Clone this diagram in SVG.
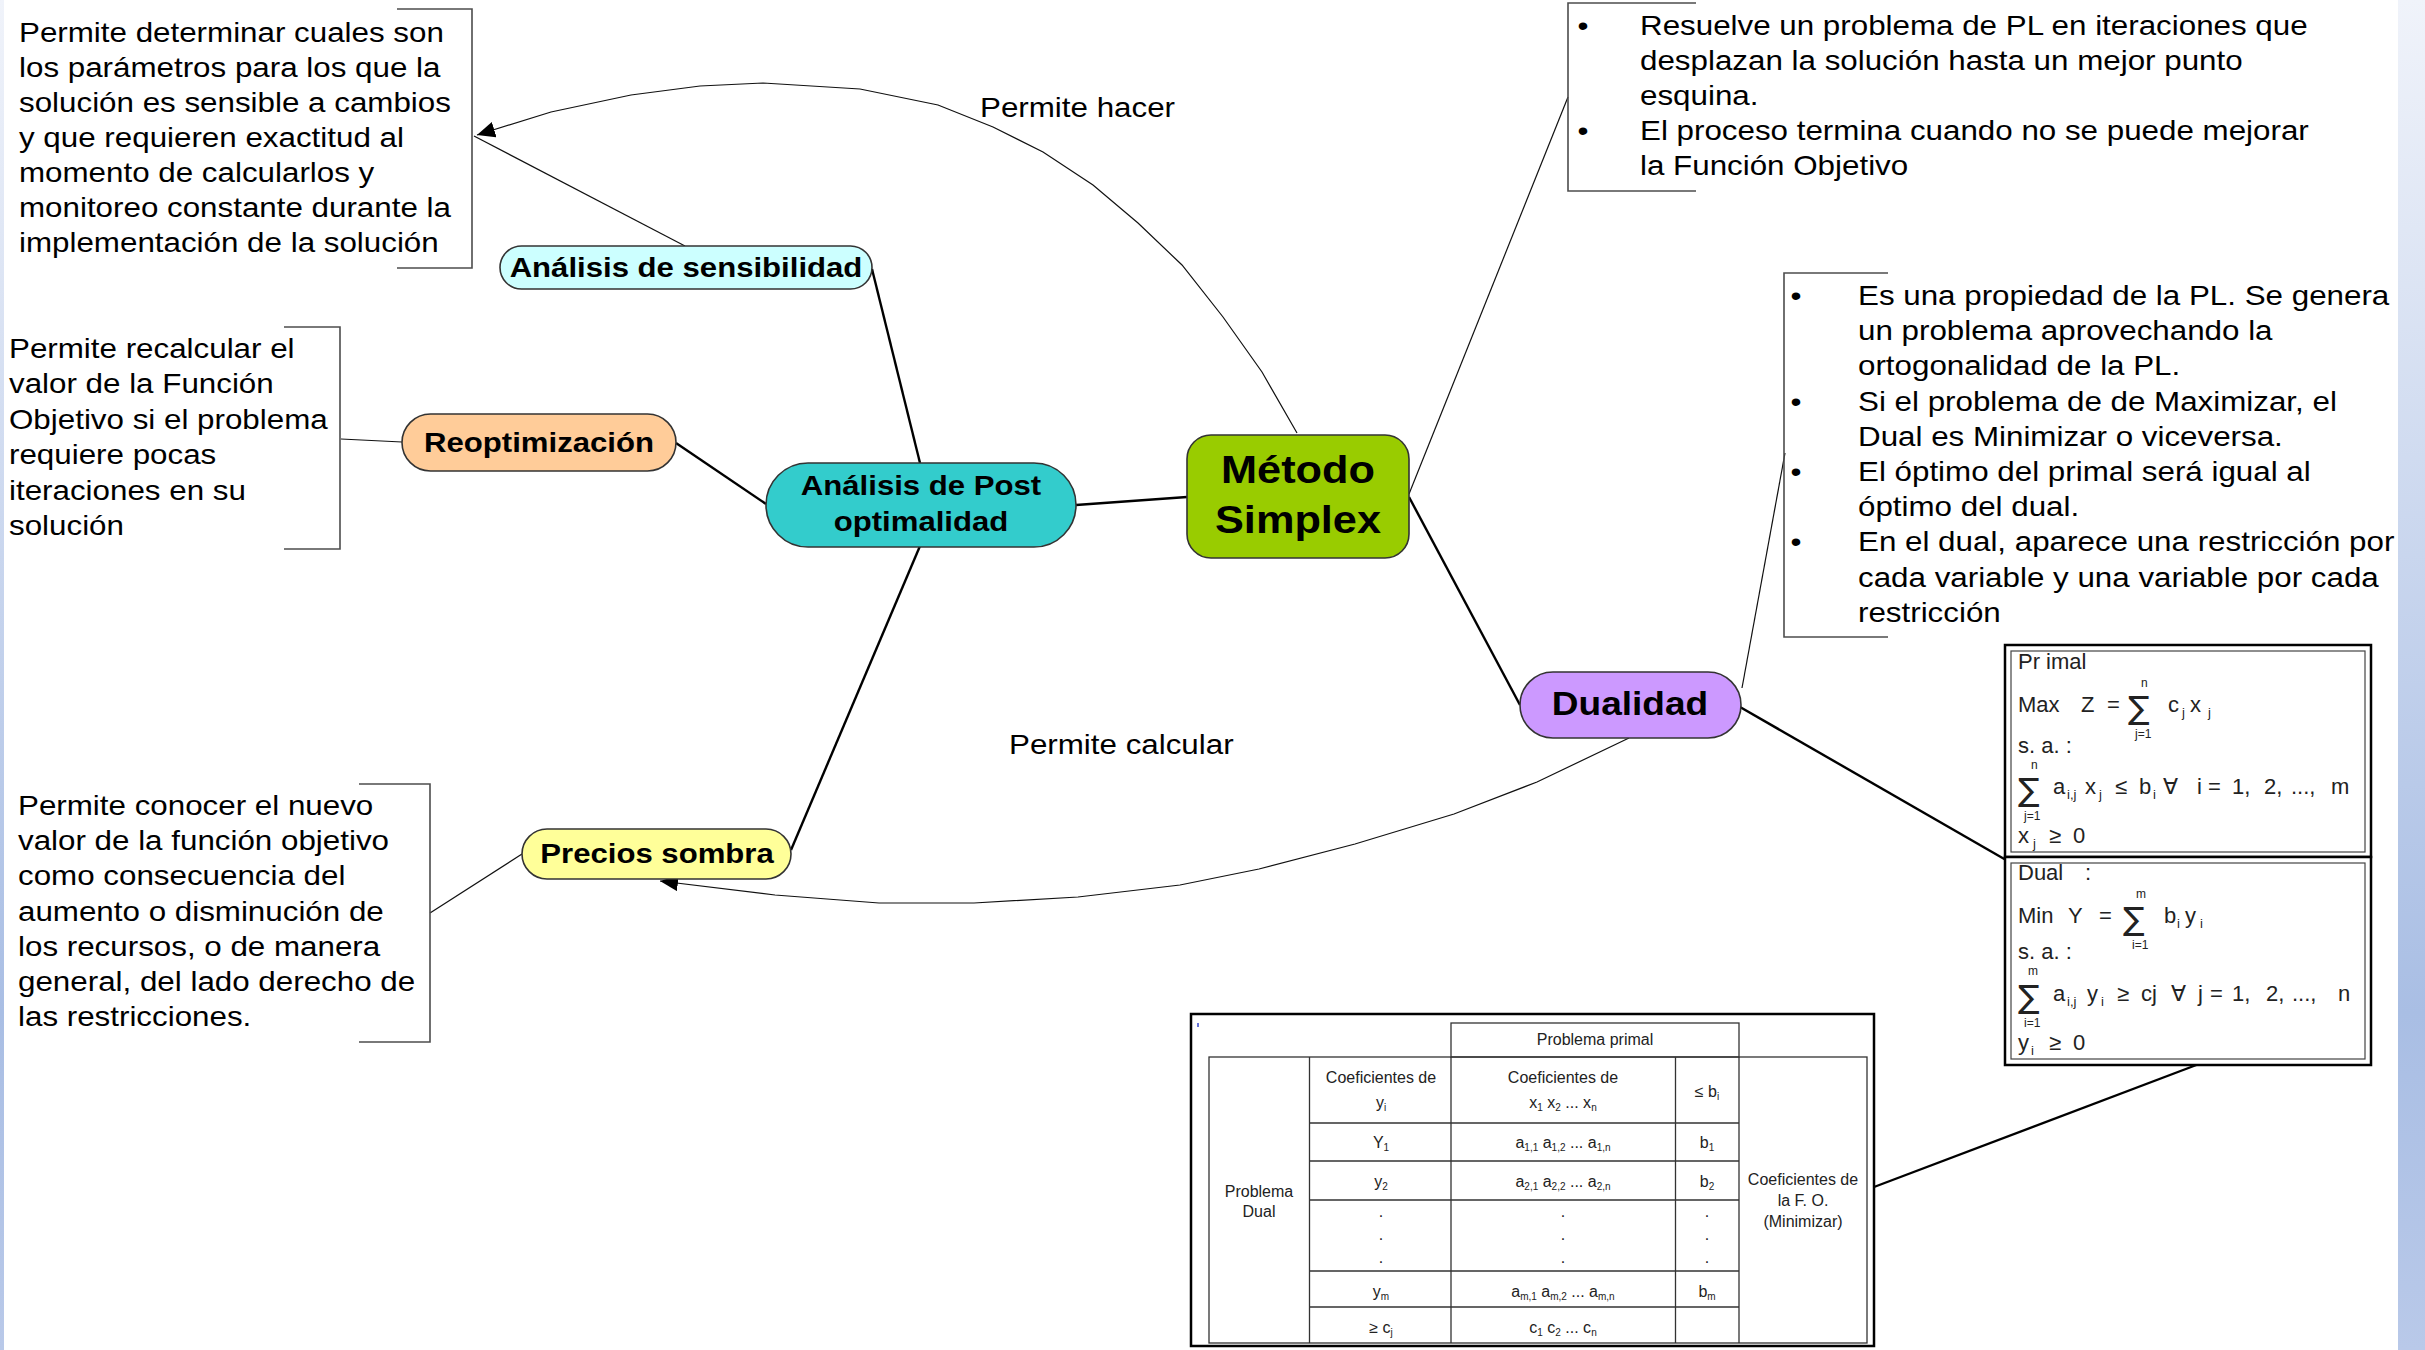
<svg xmlns="http://www.w3.org/2000/svg" width="2425" height="1350" viewBox="0 0 2425 1350">
<defs>
<linearGradient id="band" x1="0" y1="0" x2="0" y2="1">
<stop offset="0" stop-color="#f0f3fa"/>
<stop offset="0.75" stop-color="#a9bee4"/>
<stop offset="1" stop-color="#b9c9e9"/>
</linearGradient>
<linearGradient id="blue" x1="0" y1="0" x2="1" y2="0">
<stop offset="0" stop-color="#3344cc"/>
<stop offset="1" stop-color="#3344cc" stop-opacity="0"/>
</linearGradient>
<marker id="arr" markerUnits="userSpaceOnUse" markerWidth="20" markerHeight="16" refX="18" refY="8" orient="auto">
<path d="M0,0 L18,8 L0,16 Z" fill="#000"/>
</marker>
<style>
.t{font-family:"Liberation Sans",Arial,sans-serif;fill:#000}
.r{font-size:27.5px}
.b{font-weight:bold;font-size:27.3px}
.c{text-anchor:middle}
.nd{stroke:#333;stroke-width:1.6}
.thick{fill:none;stroke:#000;stroke-width:2.4}
.thin{fill:none;stroke:#111;stroke-width:1.2}
.br{fill:none;stroke:#4d4d4d;stroke-width:1.6}
.eq{font-family:"Liberation Sans",Arial,sans-serif;font-size:22px;fill:#222}
.es{font-size:13px}
.el{font-size:12px}
.sg{font-family:"DejaVu Sans","Liberation Sans",sans-serif;font-size:32px}
.tb{font-family:"Liberation Sans",Arial,sans-serif;font-size:16px;fill:#222;text-anchor:middle}
.tbs{font-size:10px}
.grid{fill:none;stroke:#333;stroke-width:1.3}
</style>
</defs>
<rect width="2425" height="1350" fill="#fff"/>
<rect x="2398" y="0" width="27" height="1350" fill="url(#band)"/>
<rect x="0" y="0" width="4" height="1350" fill="url(#band)"/>

<g id="connectors">
<polyline class="thin" marker-end="url(#arr)" points="1297,433 1262,372 1223,317 1182,265 1138,223 1093,185 1043,152 993,127 938,105 860,89 763,83 700,86 631,95 551,112 477,135"/>
<polyline class="thin" marker-end="url(#arr)" points="1629,738 1537,782 1454,814 1355,844 1259,869 1180,885 1078,897 974,903 879,903 775,895 660,881"/>
<line class="thick" x1="1187" y1="497" x2="1076" y2="505"/>
<line class="thick" x1="920" y1="463" x2="872" y2="269"/>
<line class="thick" x1="766" y1="504" x2="676" y2="443"/>
<line class="thick" x1="920" y1="546" x2="791" y2="850"/>
<line class="thick" x1="1409" y1="497" x2="1520" y2="705"/>
<line class="thick" x1="1740" y1="707" x2="2006" y2="860"/>
<line class="thick" x1="1874" y1="1187" x2="2199" y2="1064"/>
<line class="thin" x1="1409" y1="494" x2="1568" y2="97"/>
<line class="thin" x1="1742" y1="688" x2="1785" y2="453"/>
<line class="thin" x1="685" y1="246" x2="474" y2="136"/>
<line class="thin" x1="402" y1="442" x2="341" y2="439"/>
<line class="thin" x1="522" y1="854" x2="430" y2="913"/>
<text class="t r" transform="matrix(1.14 0 0 1 980 117)">Permite hacer</text>
<text class="t r" transform="matrix(1.14 0 0 1 1009 754)">Permite calcular</text>
</g>

<g id="note-sensibilidad">
<path class="br" d="M397,9 H472 V268 H397"/>
<text class="t r" transform="matrix(1.14 0 0 1 19 42)"><tspan x="0" y="0">Permite determinar cuales son</tspan><tspan x="0" y="35">los parámetros para los que la</tspan><tspan x="0" y="70">solución es sensible a cambios</tspan><tspan x="0" y="105">y que requieren exactitud al</tspan><tspan x="0" y="140">momento de calcularlos y</tspan><tspan x="0" y="175">monitoreo constante durante la</tspan><tspan x="0" y="210">implementación de la solución</tspan></text>
</g>

<g id="note-reoptimizacion">
<path class="br" d="M284,327 H340 V549 H284"/>
<text class="t r" transform="matrix(1.14 0 0 1 9 358)"><tspan x="0" y="0">Permite recalcular el</tspan><tspan x="0" y="35.5">valor de la Función</tspan><tspan x="0" y="71">Objetivo si el problema</tspan><tspan x="0" y="106.5">requiere pocas</tspan><tspan x="0" y="142">iteraciones en su</tspan><tspan x="0" y="177.5">solución</tspan></text>
</g>

<g id="note-precios">
<path class="br" d="M359,784 H430 V1042 H359"/>
<text class="t r" transform="matrix(1.14 0 0 1 18 815)"><tspan x="0" y="0">Permite conocer el nuevo</tspan><tspan x="0" y="35.2">valor de la función objetivo</tspan><tspan x="0" y="70.4">como consecuencia del</tspan><tspan x="0" y="105.6">aumento o disminución de</tspan><tspan x="0" y="140.8">los recursos, o de manera</tspan><tspan x="0" y="176">general, del lado derecho de</tspan><tspan x="0" y="211.2">las restricciones.</tspan></text>
</g>

<g id="note-simplex">
<path class="br" d="M1696,3 H1568 V191 H1696"/>
<text class="t r c" transform="matrix(1.14 0 0 1 1583 35)"><tspan x="0" y="0">•</tspan><tspan x="0" y="105">•</tspan></text>
<text class="t r" transform="matrix(1.14 0 0 1 1640 35)"><tspan x="0" y="0">Resuelve un problema de PL en iteraciones que</tspan><tspan x="0" y="35">desplazan la solución hasta un mejor punto</tspan><tspan x="0" y="70">esquina.</tspan><tspan x="0" y="105">El proceso termina cuando no se puede mejorar</tspan><tspan x="0" y="140">la Función Objetivo</tspan></text>
</g>

<g id="note-dualidad">
<path class="br" d="M1888,273 H1784 V637 H1888"/>
<text class="t r c" transform="matrix(1.14 0 0 1 1796 305)"><tspan x="0" y="0">•</tspan><tspan x="0" y="105.6">•</tspan><tspan x="0" y="176">•</tspan><tspan x="0" y="246.4">•</tspan></text>
<text class="t r" transform="matrix(1.14 0 0 1 1858 305)"><tspan x="0" y="0">Es una propiedad de la PL. Se genera</tspan><tspan x="0" y="35.2">un problema aprovechando la</tspan><tspan x="0" y="70.4">ortogonalidad de la PL.</tspan><tspan x="0" y="105.6">Si el problema de de Maximizar, el</tspan><tspan x="0" y="140.8">Dual es Minimizar o viceversa.</tspan><tspan x="0" y="176">El óptimo del primal será igual al</tspan><tspan x="0" y="211.2">óptimo del dual.</tspan><tspan x="0" y="246.4">En el dual, aparece una restricción por</tspan><tspan x="0" y="281.6">cada variable y una variable por cada</tspan><tspan x="0" y="316.8">restricción</tspan></text>
</g>

<g id="node-metodo-simplex">
<rect class="nd" x="1187" y="435" width="222" height="123" rx="24" fill="#99cc00"/>
<text class="t b c" style="font-size:38px" transform="matrix(1.14 0 0 1 1298 483)"><tspan x="0" y="0">Método</tspan><tspan x="0" y="50">Simplex</tspan></text>
</g>

<g id="node-post-optimalidad">
<rect class="nd" x="766" y="463" width="310" height="84" rx="42" fill="#33cccc"/>
<text class="t b c" transform="matrix(1.14 0 0 1 921 495)"><tspan x="0" y="0">Análisis de Post</tspan><tspan x="0" y="36">optimalidad</tspan></text>
</g>

<g id="node-sensibilidad">
<rect class="nd" x="500" y="246" width="372" height="43" rx="21.5" fill="#ccffff"/>
<text class="t b c" transform="matrix(1.14 0 0 1 686 277)">Análisis de sensibilidad</text>
</g>

<g id="node-reoptimizacion">
<rect class="nd" x="402" y="414" width="274" height="57" rx="28.5" fill="#ffcc99"/>
<text class="t b c" transform="matrix(1.14 0 0 1 539 452)">Reoptimización</text>
</g>

<g id="node-precios-sombra">
<rect class="nd" x="522" y="829" width="269" height="50" rx="25" fill="#ffff99"/>
<text class="t b c" transform="matrix(1.14 0 0 1 657 863)">Precios sombra</text>
</g>

<g id="node-dualidad">
<rect class="nd" x="1520" y="672" width="221" height="66" rx="33" fill="#cc99ff"/>
<text class="t b c" style="font-size:32.5px" transform="matrix(1.14 0 0 1 1630 715)">Dualidad</text>
</g>

<g id="primal-dual-box">
<rect x="2005" y="645" width="366" height="212" fill="#fff" stroke="#000" stroke-width="2.5"/>
<rect x="2005" y="857" width="366" height="208" fill="#fff" stroke="#000" stroke-width="2.5"/>
<rect x="2011" y="651" width="354" height="201" fill="none" stroke="#444" stroke-width="1.2"/>
<rect x="2011" y="863" width="354" height="196" fill="none" stroke="#444" stroke-width="1.2"/>
<text class="eq"><tspan x="2018" y="669">Pr imal</tspan><tspan x="2018" y="712">Max</tspan><tspan x="2081" y="712">Z</tspan><tspan x="2107" y="712">=</tspan><tspan class="sg" x="2128" y="719">∑</tspan><tspan class="el" x="2141" y="687">n</tspan><tspan class="el" x="2135" y="738">j=1</tspan><tspan x="2168" y="712">c</tspan><tspan class="es" x="2182" y="717">j</tspan><tspan x="2190" y="712">x</tspan><tspan class="es" x="2208" y="717">j</tspan><tspan x="2018" y="753">s. a. :</tspan><tspan class="sg" x="2018" y="801">∑</tspan><tspan class="el" x="2031" y="769">n</tspan><tspan class="el" x="2024" y="820">j=1</tspan><tspan x="2053" y="794">a</tspan><tspan class="es" x="2067" y="799">i,j</tspan><tspan x="2085" y="794">x</tspan><tspan class="es" x="2099" y="799">j</tspan><tspan x="2115" y="794">≤</tspan><tspan x="2139" y="794">b</tspan><tspan class="es" x="2153" y="799">i</tspan><tspan x="2163" y="794">∀</tspan><tspan x="2197" y="794">i</tspan><tspan x="2208" y="794">=</tspan><tspan x="2232" y="794">1,</tspan><tspan x="2264" y="794">2,</tspan><tspan x="2291" y="794">...,</tspan><tspan x="2331" y="794">m</tspan><tspan x="2018" y="843">x</tspan><tspan class="es" x="2033" y="848">j</tspan><tspan x="2049" y="843">≥</tspan><tspan x="2073" y="843">0</tspan></text>
<text class="eq"><tspan x="2018" y="880">Dual</tspan><tspan x="2085" y="880">:</tspan><tspan x="2018" y="923">Min</tspan><tspan x="2068" y="923">Y</tspan><tspan x="2099" y="923">=</tspan><tspan class="sg" x="2123" y="930">∑</tspan><tspan class="el" x="2136" y="898">m</tspan><tspan class="el" x="2132" y="949">i=1</tspan><tspan x="2164" y="923">b</tspan><tspan class="es" x="2177" y="928">i</tspan><tspan x="2185" y="923">y</tspan><tspan class="es" x="2200" y="928">i</tspan><tspan x="2018" y="959">s. a. :</tspan><tspan class="sg" x="2018" y="1008">∑</tspan><tspan class="el" x="2028" y="975">m</tspan><tspan class="el" x="2024" y="1027">i=1</tspan><tspan x="2053" y="1001">a</tspan><tspan class="es" x="2067" y="1006">i,j</tspan><tspan x="2087" y="1001">y</tspan><tspan class="es" x="2101" y="1006">i</tspan><tspan x="2117" y="1001">≥</tspan><tspan x="2141" y="1001">cj</tspan><tspan x="2171" y="1001">∀</tspan><tspan x="2198" y="1001">j</tspan><tspan x="2210" y="1001">=</tspan><tspan x="2232" y="1001">1,</tspan><tspan x="2266" y="1001">2,</tspan><tspan x="2292" y="1001">...,</tspan><tspan x="2338" y="1001">n</tspan><tspan x="2018" y="1050">y</tspan><tspan class="es" x="2031" y="1055">i</tspan><tspan x="2049" y="1050">≥</tspan><tspan x="2073" y="1050">0</tspan></text>
</g>

<g id="dual-table">
<rect x="1191" y="1014" width="683" height="332" fill="#fff" stroke="#000" stroke-width="2.5"/>
<line x1="1196" y1="1023" x2="1244" y2="1023" stroke="url(#blue)" stroke-width="2"/>
<line x1="1198" y1="1023" x2="1198" y2="1027" stroke="#3344cc" stroke-width="1.5"/>
<rect class="grid" x="1451" y="1023" width="288" height="34"/>
<rect class="grid" x="1209" y="1057" width="658" height="286"/>
<path class="grid" d="M1309.5,1057 V1343 M1451,1057 V1343 M1675.5,1057 V1343 M1739,1057 V1343 M1309.5,1123 H1739 M1309.5,1161 H1739 M1309.5,1200 H1739 M1309.5,1271 H1739 M1309.5,1307 H1739"/>
<text class="tb" x="1595" y="1045">Problema primal</text>
<text class="tb" x="1381" y="1083">Coeficientes de</text>
<text class="tb" x="1381" y="1108">y<tspan class="tbs" dy="3">i</tspan></text>
<text class="tb" x="1563" y="1083">Coeficientes de</text>
<text class="tb" x="1563" y="1108">x<tspan class="tbs" dy="3">1</tspan><tspan dy="-3">   x</tspan><tspan class="tbs" dy="3">2</tspan><tspan dy="-3"> ...  x</tspan><tspan class="tbs" dy="3">n</tspan></text>
<text class="tb" x="1707" y="1097">≤ b<tspan class="tbs" dy="3">i</tspan></text>
<text class="tb" x="1381" y="1148">Y<tspan class="tbs" dy="3">1</tspan></text>
<text class="tb" x="1563" y="1148">a<tspan class="tbs" dy="3">1,1</tspan><tspan dy="-3">  a</tspan><tspan class="tbs" dy="3">1,2</tspan><tspan dy="-3"> ... a</tspan><tspan class="tbs" dy="3">1,n</tspan></text>
<text class="tb" x="1707" y="1148">b<tspan class="tbs" dy="3">1</tspan></text>
<text class="tb" x="1381" y="1187">y<tspan class="tbs" dy="3">2</tspan></text>
<text class="tb" x="1563" y="1187">a<tspan class="tbs" dy="3">2,1</tspan><tspan dy="-3">  a</tspan><tspan class="tbs" dy="3">2,2</tspan><tspan dy="-3"> ... a</tspan><tspan class="tbs" dy="3">2,n</tspan></text>
<text class="tb" x="1707" y="1187">b<tspan class="tbs" dy="3">2</tspan></text>
<text class="tb" x="1381" y="1217">.</text><text class="tb" x="1381" y="1240">.</text><text class="tb" x="1381" y="1263">.</text>
<text class="tb" x="1563" y="1217">.</text><text class="tb" x="1563" y="1240">.</text><text class="tb" x="1563" y="1263">.</text>
<text class="tb" x="1707" y="1217">.</text><text class="tb" x="1707" y="1240">.</text><text class="tb" x="1707" y="1263">.</text>
<text class="tb" x="1381" y="1297">y<tspan class="tbs" dy="3">m</tspan></text>
<text class="tb" x="1563" y="1297">a<tspan class="tbs" dy="3">m,1</tspan><tspan dy="-3">  a</tspan><tspan class="tbs" dy="3">m,2</tspan><tspan dy="-3"> ... a</tspan><tspan class="tbs" dy="3">m,n</tspan></text>
<text class="tb" x="1707" y="1297">b<tspan class="tbs" dy="3">m</tspan></text>
<text class="tb" x="1381" y="1333">≥ c<tspan class="tbs" dy="3">j</tspan></text>
<text class="tb" x="1563" y="1333">c<tspan class="tbs" dy="3">1</tspan><tspan dy="-3">    c</tspan><tspan class="tbs" dy="3">2</tspan><tspan dy="-3">  ...   c</tspan><tspan class="tbs" dy="3">n</tspan></text>
<text class="tb" x="1259" y="1197">Problema</text>
<text class="tb" x="1259" y="1217">Dual</text>
<text class="tb" x="1803" y="1185">Coeficientes de</text>
<text class="tb" x="1803" y="1206">la F. O.</text>
<text class="tb" x="1803" y="1227">(Minimizar)</text>
</g>
</svg>
